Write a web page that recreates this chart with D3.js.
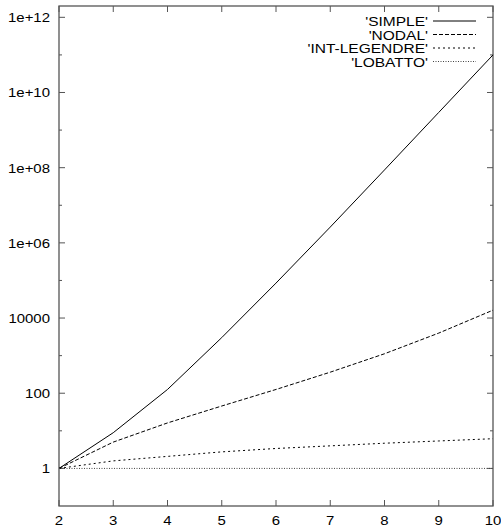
<!DOCTYPE html>
<html><head><meta charset="utf-8">
<script src="https://cdn.jsdelivr.net/npm/d3@7"></script>
<style>body{margin:0;background:#fff}text{font-family:"Liberation Sans",Arial,sans-serif;fill:#000}</style>
</head><body><svg id="c" width="501" height="528"></svg>
<script>
const xValues = [2, 3, 4, 5, 6, 7, 8, 9, 10];
const seriesNames = ["'SIMPLE'", "'NODAL'", "'INT-LEGENDRE'", "'LOBATTO'"];
const simpleLog = [0, 0.95, 2.1, 3.48, 4.93, 6.42, 7.94, 9.47, 11.0];
const nodalLog = [0, 0.70, 1.21, 1.66, 2.1, 2.56, 3.05, 3.6, 4.21];
const intLegendreLog = [0, 0.2, 0.32, 0.44, 0.53, 0.6, 0.67, 0.73, 0.79];
const lobattoLog = [0, 0, 0, 0, 0, 0, 0, 0, 0];
const xTicks = [2, 3, 4, 5, 6, 7, 8, 9, 10];
const yMajor = [1, 100, 1e4, 1e6, 1e8, 1e10, 1e12];
const yMajorLabels = ["1", "100", "10000", "1e+06", "1e+08", "1e+10", "1e+12"];
const yMinor = [10, 1e3, 1e5, 1e7, 1e9, 1e11];

const series = [simpleLog, nodalLog, intLegendreLog, lobattoLog].map((s, i) => ({
  name: seriesNames[i], values: s.map((v, j) => ({x: xValues[j], y: Math.pow(10, v)}))
}));
const dashes = [null, "4,2", "2,3", "1,1.5"];
const strokes = ["#000", "#000", "#000", "#444"];

const L = 59, R = 493, T = 6, B = 506;
const svg = d3.select("#c");
const x = d3.scaleLinear().domain([2, 10]).range([L, R]);
const y = d3.scaleLog().domain([0.1, 2e12]).range([B, T]);
const frameCol = "#555";
const sx = 1.15;

svg.append("rect").attr("x", L).attr("y", T).attr("width", R - L).attr("height", B - T)
  .attr("fill", "none").attr("stroke", frameCol).attr("stroke-width", 1.3);

const g = svg.append("g").attr("stroke", frameCol).attr("stroke-width", 1);
xTicks.forEach(v => {
  g.append("line").attr("x1", x(v)).attr("x2", x(v)).attr("y1", B).attr("y2", B - 6);
  g.append("line").attr("x1", x(v)).attr("x2", x(v)).attr("y1", T).attr("y2", T + 6);
});
yMajor.forEach(v => {
  g.append("line").attr("x1", L).attr("x2", L + 6).attr("y1", y(v)).attr("y2", y(v));
  g.append("line").attr("x1", R).attr("x2", R - 6).attr("y1", y(v)).attr("y2", y(v));
});
yMinor.forEach(v => {
  g.append("line").attr("x1", L).attr("x2", L + 3).attr("y1", y(v)).attr("y2", y(v));
  g.append("line").attr("x1", R).attr("x2", R - 3).attr("y1", y(v)).attr("y2", y(v));
});

function label(txt, px, py, anchor, fs) {
  svg.append("text").attr("transform", `translate(${px},${py}) scale(${sx},1)`)
    .attr("text-anchor", anchor).attr("font-size", fs || 13).text(txt);
}
yMajor.forEach((v, i) => label(yMajorLabels[i], 50, y(v) + 5, "end"));
xTicks.forEach(v => label(String(v), x(v), 525, "middle"));

const line = d3.line().x(d => x(d.x)).y(d => y(d.y));
series.forEach((s, i) => {
  svg.append("path").datum(s.values).attr("d", line).attr("fill", "none")
    .attr("stroke", strokes[i]).attr("stroke-width", 1)
    .attr("stroke-dasharray", dashes[i]);
});

const legY = [21, 34.5, 48, 61.5];
series.forEach((s, i) => {
  label(s.name, 428, legY[i] + 5, "end", 13.5);
  svg.append("line").attr("x1", 433).attr("x2", 476).attr("y1", legY[i]).attr("y2", legY[i])
    .attr("stroke", strokes[i]).attr("stroke-width", 1).attr("stroke-dasharray", dashes[i]);
});
</script></body></html>
